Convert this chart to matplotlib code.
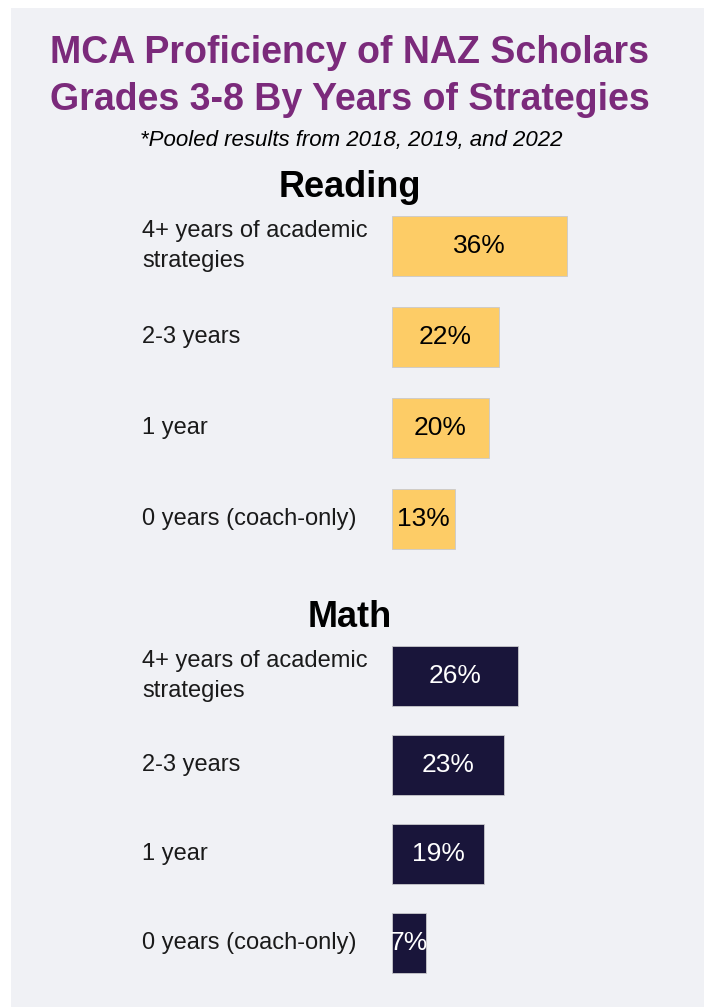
import matplotlib
matplotlib.use("Agg")
import matplotlib.pyplot as plt
from matplotlib import transforms
from matplotlib.patches import Rectangle

plt.rcParams['font.family'] = ['Liberation Sans', 'DejaVu Sans']

# data
categories = ['4+ years of academic\nstrategies', '2-3 years', '1 year', '0 years (coach-only)']
reading = [36, 22, 20, 13]
math_vals = [26, 23, 19, 7]

W, H = 704, 1007
fig = plt.figure(figsize=(W / 100, H / 100), dpi=100)
fig.patch.set_facecolor('white')

# light grey panel behind everything
fig.add_artist(Rectangle((11 / W, 0), 1 - 11 / W, 1 - 8 / H, transform=fig.transFigure,
                         facecolor='#f0f1f5', edgecolor='none', zorder=-10))

purple = '#7b2a7b'
fig.text(350 / W, 1 - 110 / H, 'MCA Proficiency of NAZ Scholars\nGrades 3-8 By Years of Strategies',
         ha='center', va='baseline', fontsize=27, fontweight='bold', color=purple, linespacing=1.4)
fig.text(351 / W, 1 - 146 / H, '*Pooled results from 2018, 2019, and 2022',
         ha='center', va='baseline', fontsize=16, style='italic', color='black')

px_per_pct = 4.85
ax_left = 392
ax_right = 700


def panel(top, row_h, values, color, txt_color, title, title_base):
    bottom = top + row_h * len(values)
    ax = fig.add_axes([ax_left / W, 1 - bottom / H, (ax_right - ax_left) / W, (bottom - top) / H])
    ax.set_facecolor('none')
    ys = range(len(values))
    bars = ax.barh(ys, values, height=60 / row_h, color=color, edgecolor='#c9c9cc', linewidth=0.6)
    ax.set_xlim(0, (ax_right - ax_left) / px_per_pct)
    ax.set_ylim(len(values) - 0.5, -0.5)
    ax.axis('off')
    for b, v in zip(bars, values):
        ax.text(b.get_x() + b.get_width() / 2, b.get_y() + b.get_height() / 2, f'{v}%',
                ha='center', va='center', fontsize=19, color=txt_color)
    tr = transforms.blended_transform_factory(fig.transFigure, ax.transData)
    for y, lab in zip(ys, categories):
        ax.text(142 / W, y, lab, transform=tr, ha='left', va='center', fontsize=17,
                color='#1a1a1a', linespacing=1.45)
    fig.text(350 / W, 1 - title_base / H, title, ha='center', va='baseline',
             fontsize=26, fontweight='bold', color='black')
    return ax


panel(200.5, 91, reading, '#fdcc66', 'black', 'Reading', 197)
panel(631.5, 89, math_vals, '#19153a', 'white', 'Math', 627)

fig.savefig('out.png', dpi=100)
